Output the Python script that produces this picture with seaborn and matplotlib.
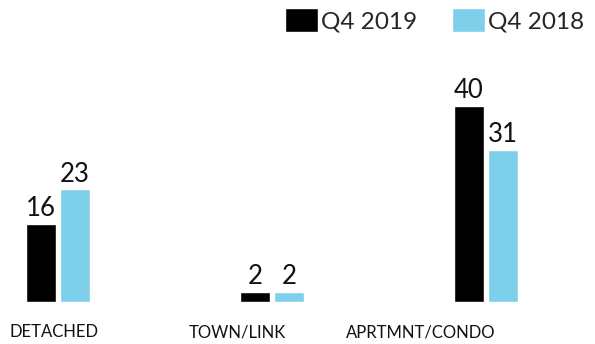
import matplotlib
matplotlib.use("Agg")
import matplotlib.pyplot as plt
import matplotlib.transforms as mtransforms
import seaborn as sns
import pandas as pd

categories = ["DETACHED", "TOWN/LINK", "APRTMNT/CONDO"]
series_names = ["Q4 2019", "Q4 2018"]
q4_2019 = [16, 2, 40]
q4_2018 = [23, 2, 31]
colors = ["#000000", "#7dcfea"]

df = pd.DataFrame({
    "category": categories * 2,
    "series": [series_names[0]] * 3 + [series_names[1]] * 3,
    "value": q4_2019 + q4_2018,
})

sns.set_theme(style="white")
plt.rcParams["font.family"] = ["Lato", "DejaVu Sans"]

fig = plt.figure(figsize=(5.95, 3.44), dpi=100)
ax = fig.add_axes([0, 42 / 344, 1, (302 - 10) / 344])

sns.barplot(data=df, x="category", y="value", hue="series", order=categories,
            hue_order=series_names, palette=colors, width=0.32, gap=0.12,
            saturation=1, ax=ax, legend=True)

for cont in ax.containers:
    ax.bar_label(cont, padding=2, fontsize=18.5, color="#111111")

ax.set_xlim(-58 / 214, (595 - 58) / 214)
ax.set_ylim(0, 292 / 4.9)
for s in ax.spines.values():
    s.set_visible(False)
ax.set_xlabel("")
ax.set_ylabel("")
ax.set_yticks([])
ax.tick_params(axis="x", length=0, pad=16, labelsize=12, labelcolor="#111111")

offsets_px = [-4, -35, -65]
for lbl, dx in zip(ax.get_xticklabels(), offsets_px):
    lbl.set_transform(lbl.get_transform() +
                      mtransforms.ScaledTranslation(dx / 100, 0, fig.dpi_scale_trans))

handles, labels = ax.get_legend_handles_labels()
ax.legend(handles, labels, loc="upper right", bbox_to_anchor=(584 / 595, 1 - 8 / 344),
          bbox_transform=fig.transFigure, ncol=2, frameon=False, fontsize=17.5,
          handlelength=1.35, handleheight=1.15, handletextpad=0.12,
          columnspacing=1.45, borderaxespad=0, borderpad=0)

fig.savefig("out.png", dpi=100, facecolor="white")
